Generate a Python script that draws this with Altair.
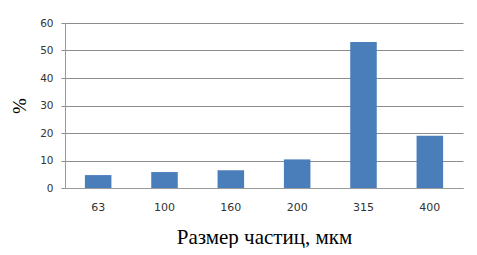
import altair as alt
import pandas as pd

sizes = ["63", "100", "160", "200", "315", "400"]
percent = [4.7, 5.8, 6.5, 10.4, 53.1, 19.0]

df = pd.DataFrame({"size": sizes, "pct": percent})

chart = alt.Chart(df).mark_bar(color="#4a7ebb").encode(
    x=alt.X("size:N", sort=sizes, title="Размер частиц, мкм",
            scale=alt.Scale(paddingInner=0.6, paddingOuter=0.3),
            axis=alt.Axis(labelAngle=0, ticks=False, domainColor="#999999",
                          labelFont="DejaVu Sans", labelFontSize=11, labelColor="#333333",
                          labelPadding=13, titleFont="Liberation Serif", titleFontSize=21,
                          titleFontWeight="normal", titleColor="#000000", titlePadding=14)),
    y=alt.Y("pct:Q", title="%",
            scale=alt.Scale(domain=[0, 60]),
            axis=alt.Axis(values=[0, 10, 20, 30, 40, 50, 60], grid=True, gridColor="#8c8c8c",
                          tickColor="#8c8c8c", tickSize=4, domainColor="#999999",
                          labelFont="DejaVu Sans", labelFontSize=10.5, labelColor="#333333",
                          labelPadding=8, titleFont="Liberation Serif", titleFontSize=19,
                          titleFontWeight="normal", titleColor="#000000", titlePadding=10)),
).properties(
    width=398, height=165,
    autosize=alt.AutoSizeParams(type="none"),
    padding={"left": 57, "top": 15, "right": 6, "bottom": 60},
).configure_view(stroke=None).configure_axis(gridWidth=1)

chart.save("out.html", embed_options={"renderer": "svg", "actions": False})
